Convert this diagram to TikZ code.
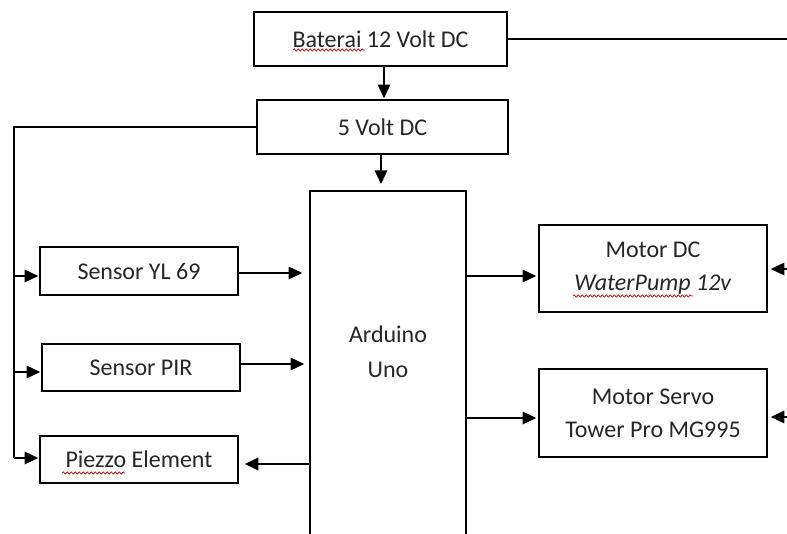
\documentclass[tikz,border=0pt]{standalone}
\usepackage{fontspec}
\setmainfont{Carlito}
\usetikzlibrary{arrows.meta,calc,decorations.pathmorphing}
\begin{document}
\begin{tikzpicture}[x=1pt,y=-1pt,
  box/.style={draw, line width=1.6pt, inner sep=0pt, align=center,
    font=\fontsize{24}{33}\selectfont, text=black!85},
  conn/.style={line width=1.5pt},
  arr/.style={conn, -{Triangle[length=13.5pt,width=12.5pt]}},
  squig/.style={red!85!black, line width=0.7pt, decorate,
    decoration={snake, amplitude=1.2pt, segment length=4pt}}]
\useasboundingbox (0,0) rectangle (787,534);
\clip (0,0) rectangle (787,534);
\fill[white] (0,0) rectangle (787,534);

% nodes
\node[box, minimum width=253pt, minimum height=54pt] (bat) at (380.5,39) {Baterai 12 Volt DC};
\node[box, minimum width=251pt, minimum height=54pt] (v5) at (382.5,127) {5 Volt DC};
\node[box, minimum width=156pt, minimum height=420pt, anchor=north] (ard) at (388,190) {};
\node[align=center, font=\fontsize{24}{35}\selectfont, text=black!85] (ardt) at (388,352) {Arduino\\Uno};
\node[box, minimum width=198pt, minimum height=48pt] (yl) at (139,271) {Sensor YL 69};
\node[box, minimum width=198pt, minimum height=47pt] (pir) at (141,367.5) {Sensor PIR};
\node[box, minimum width=198pt, minimum height=47pt] (pz) at (139,459.5) {Piezzo Element};
\node[box, minimum width=228pt, minimum height=87pt] (mdc) at (653,268.5) {Motor DC\\\textit{WaterPump 12v}};
\node[box, minimum width=228pt, minimum height=88pt] (srv) at (653,413) {Motor Servo\\Tower Pro MG995};

% free ends and helper points
\coordinate (batR) at (787,39);
\coordinate (busT) at (14,127);
\coordinate (mdcR) at (787,269);
\coordinate (srvR) at (787,417);
\coordinate (ylin) at ($(yl.west)+(0,5)$);
\coordinate (pirin) at ($(pir.west)+(0,4.5)$);
\coordinate (pzin) at ($(pz.west)+(0,-1.5)$);
\coordinate (ylout) at ($(yl.east)+(0,2)$);
\coordinate (pirout) at ($(pir.east)+(0,-3.5)$);
\coordinate (pzout) at ($(pz.east)+(0,4.5)$);
\coordinate (mdcin) at ($(mdc.west)+(0,7.5)$);
\coordinate (srvin) at ($(srv.west)+(0,5)$);

% connectors
\draw[conn] (bat.east) -- (batR);
\draw[arr, shorten >=1pt] ([xshift=3.5pt]bat.south) -- ([xshift=3.5pt]bat.south |- v5.north);
\draw[arr, shorten >=6pt] ([xshift=-1.5pt]v5.south) -- ([xshift=-1.5pt]v5.south |- ard.north);
\draw[conn] (v5.west) -- (busT) -- (busT |- pzin);
\draw[arr, shorten >=1pt] (ylin -| busT) -- (ylin);
\draw[arr, shorten >=1pt] (pirin -| busT) -- (pirin);
\draw[arr, shorten >=1pt] (pzin -| busT) -- (pzin);
\draw[arr, shorten >=7pt] (ylout) -- (ylout -| ard.west);
\draw[arr, shorten >=5pt] (pirout) -- (pirout -| ard.west);
\draw[arr, shorten >=6pt] (pzout -| ard.west) -- (pzout);
\draw[arr, shorten >=2pt] (mdcin -| ard.east) -- (mdcin);
\draw[arr, shorten >=2pt] (srvin -| ard.east) -- (srvin);
\draw[arr, shorten >=3pt] (mdcR) -- (mdcR -| mdc.east);
\draw[arr, shorten >=3pt] (srvR) -- (srvR -| srv.east);

% spell-check squiggles
\draw[squig] (293,50) -- (365,50);
\draw[squig] (62,473) -- (125,473);
\draw[squig] (573,296) -- (693,296);
\end{tikzpicture}
\end{document}
